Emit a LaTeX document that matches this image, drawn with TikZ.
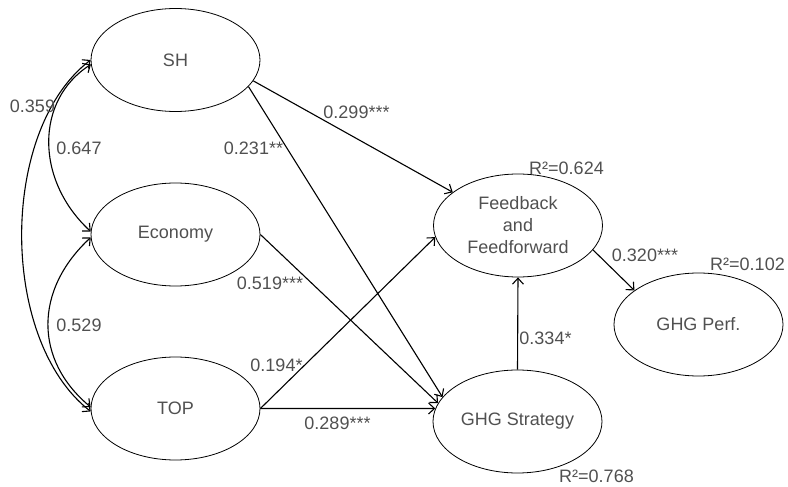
\documentclass[tikz,border=0pt]{standalone}
\usepackage{fontspec}
\setmainfont{Liberation Sans}
\usetikzlibrary{arrows.meta,shapes.geometric}
\definecolor{txt}{HTML}{505050}
\begin{document}
\begin{tikzpicture}[x=1pt,y=-1pt,
  lat/.style={ellipse,draw,line width=0.8pt,minimum width=169pt,minimum height=103pt,inner sep=0pt,text=txt,font=\fontsize{18}{22}\selectfont,align=center},
  lbl/.style={text=txt,font=\fontsize{18}{22}\selectfont,inner sep=0pt},
  conn/.style={line width=1.1pt,-{Straight Barb[length=6pt,width=11pt]}},
  corr/.style={line width=1.1pt,{Straight Barb[length=6pt,width=11pt]}-{Straight Barb[length=6pt,width=11pt]}}
  ]
\useasboundingbox (0,0) rectangle (788,487);
\node[lat] (SH) at (175.5,60) {SH};
\node[lat] (Eco) at (175.5,234.5) {Economy};
\node[lat] (TOP) at (175.5,408.5) {TOP};
\node[lat] (FB) at (518,225.5) {Feedback\\and\\Feedforward};
\node[lat] (PERF) at (698.5,324.5) {GHG Perf.};
\node[lat] (STRAT) at (517.5,421.5) {GHG Strategy};

% correlations
\draw[corr] (SH.183) .. controls (35,100) and (35,180) .. (Eco.178);
\draw[corr] (SH.180) .. controls (-1,130) and (-1,340) .. (TOP.182);
\draw[corr] (Eco.182) .. controls (34,290) and (34,360) .. (TOP.179);

% paths
\draw[conn] (SH.-15) -- (FB.153);
\draw[conn] (SH.-20) -- (STRAT.162);
\draw[conn] (Eco.east) -- (STRAT.167);
\draw[conn] (TOP.east) -- (STRAT.171);
\draw[conn] (TOP.east) -- (FB.188);
\draw[conn] (STRAT.north) -- (FB.south);
\draw[conn] (FB.-18) -- (PERF.152);

% labels
\node[lbl] (l1) at (32.5,106) {0.359};
\node[lbl] (l2) at (79,148) {0.647};
\node[lbl] (l3) at (79,325) {0.529};
\node[lbl] (l4) at (253.5,148) {0.231**};
\node[lbl] (l5) at (356.5,112) {0.299***};
\node[lbl] (l6) at (270,283) {0.519***};
\node[lbl] (l7) at (276.5,365) {0.194*};
\node[lbl] (l8) at (337.5,423) {0.289***};
\node[lbl] (l9) at (545.5,338) {0.334*};
\node[lbl] (l10) at (645,255) {0.320***};
\node[lbl] (r1) at (566.5,168) {R²=0.624};
\node[lbl] (r2) at (747.5,264) {R²=0.102};
\node[lbl] (r3) at (596.5,476) {R²=0.768};
\end{tikzpicture}
\end{document}
